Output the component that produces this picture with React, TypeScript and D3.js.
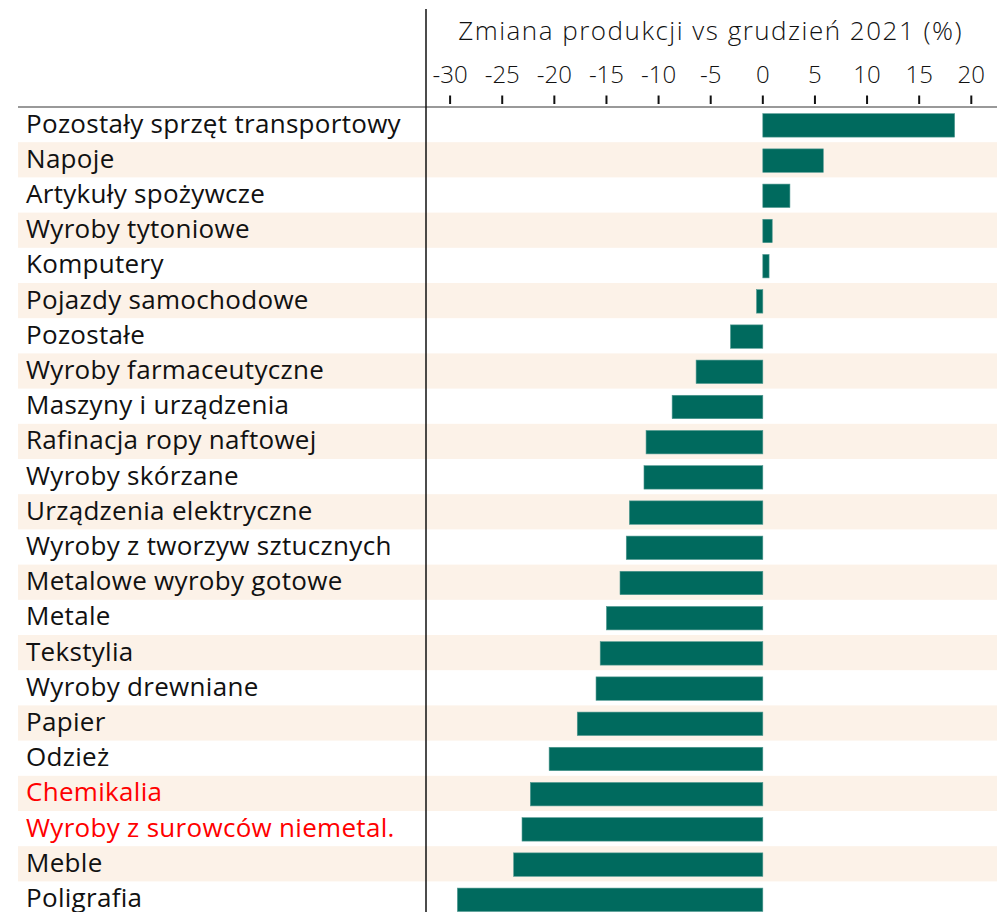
import React from "react";
import * as d3 from "d3";

const categories = [
  "Pozostały sprzęt transportowy",
  "Napoje",
  "Artykuły spożywcze",
  "Wyroby tytoniowe",
  "Komputery",
  "Pojazdy samochodowe",
  "Pozostałe",
  "Wyroby farmaceutyczne",
  "Maszyny i urządzenia",
  "Rafinacja ropy naftowej",
  "Wyroby skórzane",
  "Urządzenia elektryczne",
  "Wyroby z tworzyw sztucznych",
  "Metalowe wyroby gotowe",
  "Metale",
  "Tekstylia",
  "Wyroby drewniane",
  "Papier",
  "Odzież",
  "Chemikalia",
  "Wyroby z surowców niemetal.",
  "Meble",
  "Poligrafia",
];

const values = [
  18.4, 5.8, 2.6, 0.9, 0.6, -0.6, -3.1, -6.4, -8.7, -11.2, -11.4, -12.8, -13.1,
  -13.7, -15.0, -15.6, -16.0, -17.8, -20.5, -22.3, -23.1, -23.9, -29.3,
];

const highlighted = ["Chemikalia", "Wyroby z surowców niemetal."];

const tickValues = [-30, -25, -20, -15, -10, -5, 0, 5, 10, 15, 20];
const title = "Zmiana produkcji vs grudzień 2021 (%)";

const W = 997;
const H = 912;
const rowTop = 107;
const rowStep = 35.2;

export default function App() {
  const x = d3.scaleLinear().domain([-30, 20]).range([450.1, 971.3]);
  const y = d3
    .scaleBand<string>()
    .domain(categories)
    .range([rowTop, rowTop + rowStep * categories.length])
    .padding(0);
  const bw = y.bandwidth();
  const barOff = bw * 0.19;
  const barH = bw * 0.665;
  const labelFont = "'Open Sans', 'Noto Sans', sans-serif";

  return (
    <svg
      width={W}
      height={H}
      style={{ position: "absolute", left: 0, top: 0, background: "#fff" }}
    >
      {categories.map((c, i) =>
        i % 2 === 1 ? (
          <rect key={"band" + c} x={18} y={y(c)} width={W - 18} height={bw} fill="#fcf2e8" />
        ) : null
      )}
      {categories.map((c, i) => {
        const v = values[i];
        const x0 = x(Math.min(0, v));
        const x1 = x(Math.max(0, v));
        return (
          <rect
            key={"bar" + c}
            x={x0}
            y={(y(c) as number) + barOff}
            width={x1 - x0}
            height={barH}
            fill="#006a5e"
            stroke="#4f9890"
            strokeWidth={0.6}
          />
        );
      })}
      {categories.map((c) => (
        <text
          key={"lab" + c}
          x={26}
          y={(y(c) as number) + bw / 2 + 8}
          fontFamily={labelFont}
          fontSize={26}
          fontWeight={500}
          letterSpacing={0.3}
          fill={highlighted.includes(c) ? "#ff0000" : "#111"}
        >
          {c}
        </text>
      ))}
      <line x1={18} x2={W} y1={rowTop} y2={rowTop} stroke="#999" strokeWidth={2} />
      {tickValues.map((t) => (
        <g key={"t" + t}>
          <line x1={x(t)} x2={x(t)} y1={95.5} y2={104} stroke="#111" strokeWidth={2} />
          <text
            x={x(t)}
            y={83}
            textAnchor="middle"
            fontFamily={labelFont}
            fontSize={24}
            fontWeight={300}
            fill="#111"
          >
            {t < 0 ? "-" + Math.abs(t) : String(t)}
          </text>
        </g>
      ))}
      <text
        x={(x(-30) + x(20)) / 2}
        y={40}
        textAnchor="middle"
        fontFamily={labelFont}
        fontSize={26}
        fontWeight={300}
        letterSpacing={1.5}
        fill="#111"
      >
        {title}
      </text>
      <line x1={426} x2={426} y1={9} y2={H} stroke="#111" strokeWidth={1.5} />
    </svg>
  );
}
